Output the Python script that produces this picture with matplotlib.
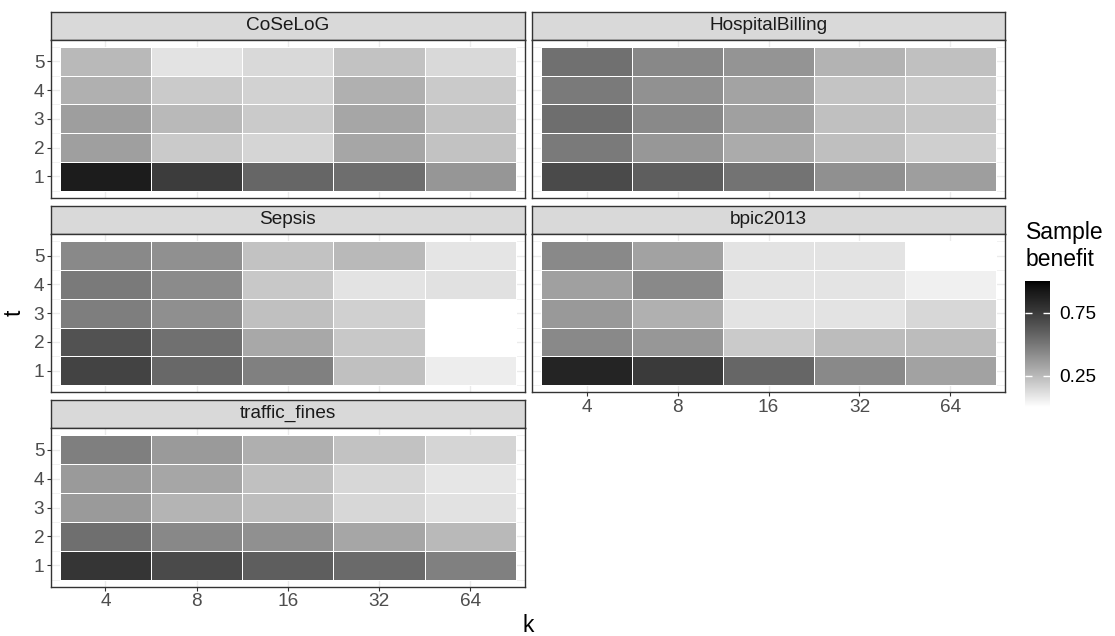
import numpy as np
import matplotlib
matplotlib.use('Agg')
import matplotlib.pyplot as plt
from matplotlib.colors import ListedColormap, Normalize
from matplotlib.cm import ScalarMappable

plt.rcParams['font.family'] = ['Liberation Sans', 'DejaVu Sans']

# data: rows are t = 1..5, columns are k = 4, 8, 16, 32, 64
k_labels = ['4', '8', '16', '32', '64']
t_values = [1, 2, 3, 4, 5]

coselog = [
    [0.897, 0.743, 0.568, 0.536, 0.379],
    [0.345, 0.190, 0.151, 0.319, 0.216],
    [0.349, 0.249, 0.190, 0.319, 0.216],
    [0.282, 0.190, 0.158, 0.282, 0.190],
    [0.249, 0.101, 0.133, 0.216, 0.133],
]
hospital_billing = [
    [0.686, 0.601, 0.512, 0.403, 0.349],
    [0.488, 0.375, 0.304, 0.230, 0.169],
    [0.536, 0.426, 0.341, 0.223, 0.201],
    [0.488, 0.399, 0.330, 0.208, 0.187],
    [0.528, 0.433, 0.387, 0.271, 0.223],
]
sepsis = [
    [0.716, 0.560, 0.464, 0.223, 0.066],
    [0.652, 0.528, 0.311, 0.194, 0.0],
    [0.472, 0.410, 0.223, 0.165, 0.0],
    [0.488, 0.418, 0.194, 0.098, 0.108],
    [0.426, 0.406, 0.216, 0.249, 0.090],
]
bpic2013 = [
    [0.858, 0.756, 0.568, 0.426, 0.334],
    [0.426, 0.375, 0.190, 0.241, 0.241],
    [0.371, 0.282, 0.098, 0.098, 0.144],
    [0.341, 0.426, 0.094, 0.094, 0.052],
    [0.426, 0.334, 0.098, 0.098, 0.0],
]
traffic_fines = [
    [0.774, 0.686, 0.601, 0.552, 0.464],
    [0.532, 0.433, 0.406, 0.319, 0.249],
    [0.364, 0.267, 0.234, 0.144, 0.105],
    [0.364, 0.319, 0.223, 0.144, 0.087],
    [0.468, 0.364, 0.289, 0.216, 0.151],
]

facets = [
    ('CoSeLoG', coselog, 0, 0),
    ('HospitalBilling', hospital_billing, 0, 1),
    ('Sepsis', sepsis, 1, 0),
    ('bpic2013', bpic2013, 1, 1),
    ('traffic_fines', traffic_fines, 2, 0),
]

# white -> black gradient, linear in CIE L* like ggplot's scale_fill_gradient
v = np.linspace(0, 1, 256)
L = 100 * (1 - v)
Y = np.where(L > 8, ((L + 16) / 116) ** 3, L / 903.3)
s = np.where(Y <= 0.0031308, 12.92 * Y, 1.055 * Y ** (1 / 2.4) - 0.055)
cmap = ListedColormap(np.column_stack([s, s, s]))
norm = Normalize(0, 1)

W, H = 1115, 636
fig = plt.figure(figsize=(W / 100, H / 100), dpi=100)


def px_axes(x0, y0, x1, y1):
    return fig.add_axes([x0 / W, 1 - y1 / H, (x1 - x0) / W, (y1 - y0) / H])


cols = [(50.7, 525.0), (532.0, 1005.0)]
rows = [(11.7, 39.7, 198.0), (205.7, 234.0, 392.3), (399.7, 428.0, 587.0)]
small = 13.7
big = 16.5

bottom_panels = {'bpic2013', 'traffic_fines'}

for name, data, r, c in facets:
    x0, x1 = cols[c]
    st, sb, pb = rows[r]
    # strip
    sax = px_axes(x0, st, x1, sb)
    sax.set_facecolor('#D9D9D9')
    sax.set_xticks([])
    sax.set_yticks([])
    for sp in sax.spines.values():
        sp.set_color('#333333')
        sp.set_linewidth(1.0)
    sax.text(0.5, 0.5, name, transform=sax.transAxes, ha='center', va='center',
             fontsize=small, color='#1A1A1A')

    ax = px_axes(x0, sb, x1, pb)
    z = np.array(data, dtype=float)
    ax.pcolormesh(np.arange(0.5, 6.0, 1.0), np.arange(0.5, 6.0, 1.0), z,
                  cmap=cmap, norm=norm, edgecolors='white', linewidth=0.55)
    ax.set_xlim(0.4, 5.6)
    ax.set_ylim(0.25, 5.75)
    ax.set_axisbelow(True)
    ax.set_xticks(range(1, 6))
    ax.set_xticklabels(k_labels)
    ax.set_yticks(t_values)
    ax.set_yticks(np.arange(0.5, 6.0, 1.0), minor=True)
    ax.grid(which='major', color='#EBEBEB', linewidth=1.0)
    ax.grid(which='minor', axis='y', color='#EBEBEB', linewidth=0.5)
    ax.tick_params(which='minor', length=0)
    ax.tick_params(which='major', length=3, width=0.8, color='#333333',
                   labelsize=small, labelcolor='#4D4D4D', pad=1.5)
    if c != 0:
        ax.tick_params(left=False, labelleft=False)
    if name not in bottom_panels:
        ax.tick_params(bottom=False, labelbottom=False)
    for sp in ax.spines.values():
        sp.set_color('#333333')
        sp.set_linewidth(1.0)

fig.text(528 / W, 1 - 625 / H, 'k', ha='center', va='center', fontsize=big)
fig.text(14 / W, 1 - 313 / H, 't', ha='center', va='center', fontsize=big,
         rotation=90)

# legend
fig.text(1026 / W, 1 - 221 / H, 'Sample\nbenefit', ha='left', va='top',
         fontsize=big, linespacing=1.25)
cax = px_axes(1025, 281, 1050, 407)
sm = ScalarMappable(norm=norm, cmap=cmap)
cb = fig.colorbar(sm, cax=cax, ticks=[0.25, 0.75])
cb.outline.set_visible(False)
cb.ax.minorticks_off()
cax.tick_params(axis='y', direction='in', length=5, width=1, color='white',
                left=True, right=True, labelleft=False, labelright=True,
                labelsize=small, labelcolor='black', pad=7)

plt.savefig('out.png', dpi=100)
